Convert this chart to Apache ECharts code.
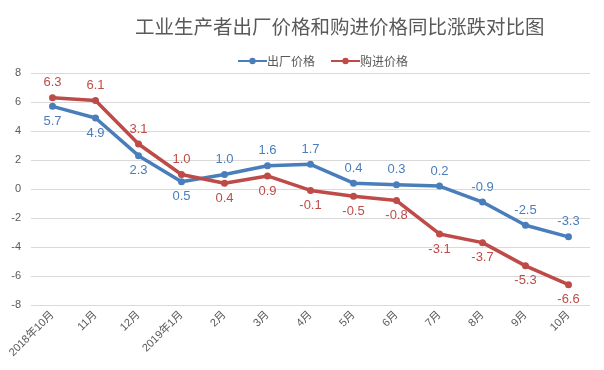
<!DOCTYPE html>
<html><head><meta charset="utf-8">
<script src="https://cdn.jsdelivr.net/npm/echarts@6/dist/echarts.min.js"></script>
<style>html,body{margin:0;padding:0;background:#fff}#c{width:604px;height:370px}</style>
</head><body><div id="c"></div>
<script>
const categories = ['2018年10月','11月','12月','2019年1月','2月','3月','4月','5月','6月','7月','8月','9月','10月'];
const factoryPrice = [5.7, 4.9, 2.3, 0.5, 1.0, 1.6, 1.7, 0.4, 0.3, 0.2, -0.9, -2.5, -3.3];
const purchasePrice = [6.3, 6.1, 3.1, 1.0, 0.4, 0.9, -0.1, -0.5, -0.8, -3.1, -3.7, -5.3, -6.6];
const yTicks = [-8, -6, -4, -2, 0, 2, 4, 6, 8];

const BLUE = '#4A7EBB', RED = '#BE4B48';
const FONT = '"Liberation Sans","Noto Sans CJK SC",sans-serif';

function build(vals, other) {
  return vals.map((v, i) => ({
    value: v,
    label: { position: v >= other[i] ? 'top' : 'bottom' }
  }));
}

const chart = echarts.init(document.getElementById('c'), null, {renderer: 'canvas'});
chart.setOption({
  animation: false,
  title: {
    text: '工业生产者出厂价格和购进价格同比涨跌对比图',
    left: 130, top: 12,
    textStyle: { fontFamily: '"Noto Sans CJK SC",sans-serif', fontSize: 19.5, fontWeight: 'normal', color: '#595959' }
  },
  legend: {
    top: 50, left: 232,
    itemWidth: 29, itemHeight: 8, itemGap: 15,
    textStyle: { fontFamily: '"Noto Sans CJK SC",sans-serif', fontSize: 12, color: '#595959', padding: [0,0,0,-5] },
    data: ['出厂价格', '购进价格']
  },
  grid: { left: 31, right: 14, top: 73, bottom: 65, containLabel: false },
  xAxis: {
    type: 'category', data: categories, boundaryGap: true,
    axisLine: { show: false }, axisTick: { show: false },
    axisLabel: { rotate: 45, interval: 0, fontSize: 11, color: '#595959', fontFamily: FONT, margin: 8 }
  },
  yAxis: {
    type: 'value', min: yTicks[0], max: yTicks[yTicks.length - 1], interval: 2,
    axisLine: { show: false }, axisTick: { show: false },
    axisLabel: { fontSize: 11, color: '#595959', fontFamily: FONT, margin: 10 },
    splitLine: { lineStyle: { color: '#D9D9D9', width: 1 } }
  },
  series: [
    {
      name: '出厂价格', type: 'line', data: build(factoryPrice, purchasePrice),
      color: BLUE, symbol: 'circle', symbolSize: 7,
      lineStyle: { width: 3.5, color: BLUE },
      label: { show: true, color: BLUE, fontSize: 13, fontFamily: FONT, formatter: p => p.value.toFixed(1), distance: 5 }
    },
    {
      name: '购进价格', type: 'line', data: build(purchasePrice, factoryPrice),
      color: RED, symbol: 'circle', symbolSize: 7,
      lineStyle: { width: 3.5, color: RED },
      label: { show: true, color: RED, fontSize: 13, fontFamily: FONT, formatter: p => p.value.toFixed(1), distance: 5 }
    }
  ]
});
</script></body></html>
